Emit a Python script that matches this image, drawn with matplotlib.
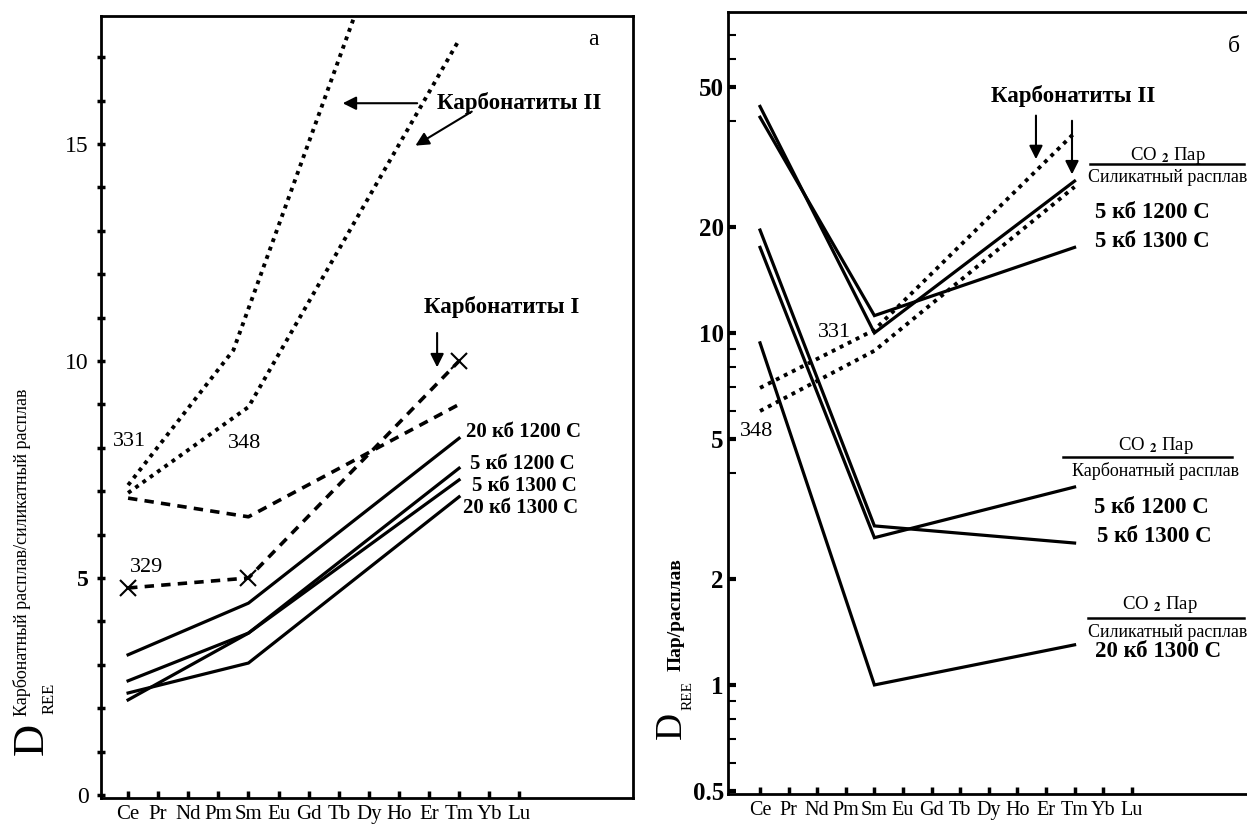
import matplotlib
matplotlib.use('Agg')
import matplotlib.pyplot as plt
from matplotlib.ticker import FixedLocator, NullFormatter

plt.rcParams['font.family'] = ['Liberation Serif', 'DejaVu Serif']
plt.rcParams['mathtext.fontset'] = 'stix'

# REE order on both x axes
ree = ['Ce', 'Pr', 'Nd', 'Pm', 'Sm', 'Eu', 'Gd', 'Tb', 'Dy', 'Ho', 'Er', 'Tm', 'Yb', 'Lu']
pts_x = [0, 4, 11]          # Ce, Sm, Tm

# --- panel a: carbonate melt / silicate melt (linear) ---
a_20kb_1200 = [3.23, 4.42, 8.22]
a_5kb_1200 = [2.63, 3.73, 7.53]
a_5kb_1300 = [2.19, 3.73, 7.26]
a_20kb_1300 = [2.35, 3.04, 6.87]
a_carb1_329 = [4.77, 5.0, 10.0]
a_carb1_b = [6.84, 6.41, 9.0]
a_carb2_331_x = [0, 3.5, 7.5]
a_carb2_331 = [7.14, 10.25, 17.9]
a_carb2_348 = [6.96, 8.94, 17.4]

# --- panel b: vapour / melt (log) ---
b_sil_5kb_1200 = [44.0, 10.0, 27.0]
b_sil_5kb_1300 = [41.0, 11.2, 17.5]
b_carb_5kb_1200 = [17.5, 2.62, 3.65]
b_carb_5kb_1300 = [19.6, 2.83, 2.53]
b_sil_20kb_1300 = [9.37, 1.0, 1.30]
b_carb2_331 = [6.98, 10.2, 37.0]
b_carb2_348 = [6.0, 8.9, 26.0]

W, H = 1247, 833
fig = plt.figure(figsize=(W / 100, H / 100), dpi=100)
axA = fig.add_axes([101 / W, 1 - 798 / H, 532 / W, 782 / H])
axB = fig.add_axes([728 / W, 1 - 794 / H, 519 / W, 782 / H])

solid = dict(color='black', lw=2.3, solid_joinstyle='miter')
dotted = dict(color='black', lw=2.8, linestyle=(0, (1, 1.3)))
dashed = dict(color='black', lw=2.6, linestyle=(0, (2.6, 2.0)))
bold_lbl = dict(fontsize=16.5, fontweight='bold')

# ---------------- panel a ----------------
ax = axA
for s in [a_20kb_1200, a_5kb_1200, a_5kb_1300, a_20kb_1300]:
    ax.plot(pts_x, s, **solid)
ax.plot(pts_x, a_carb1_329, marker='x', ms=11, mew=1.5, **dashed)
ax.plot(pts_x, a_carb1_b, **dashed)
ax.plot(a_carb2_331_x, a_carb2_331, **dotted)
ax.plot(pts_x, a_carb2_348, **dotted)

ax.set_xlim(-0.9, 16.78)
ax.set_ylim(-0.07, 17.95)
ax.set_xticks(range(len(ree)))
ax.set_xticklabels(ree, fontsize=15)
ax.set_yticks([0, 5, 10, 15])
ax.set_yticklabels(['0', '5', '10', '15'], fontsize=17)
for t in ax.get_yticklabels():
    if t.get_text() == '5':
        t.set_fontweight('bold')
ax.set_yticks(range(0, 18), minor=True)
ax.tick_params(axis='y', which='both', direction='inout', length=6, width=2.5, pad=6)
ax.tick_params(axis='x', direction='in', length=5, width=2.5, pad=5)
for sp in ax.spines.values():
    sp.set_linewidth(2)

ax.text(15.45, 17.4, 'а', fontsize=17, ha='center', va='center')
ax.text(-0.5, 8.15, '331', fontsize=16, va='center')
ax.text(3.32, 8.09, '348', fontsize=16, va='center')
ax.text(0.07, 5.23, '329', fontsize=16, va='center')
ax.text(10.27, 15.94, 'Карбонатиты II', ha='left', va='center', **bold_lbl)
ax.text(12.43, 11.24, 'Карбонатиты I', ha='center', va='center', **bold_lbl)
arr = dict(arrowstyle='-|>', color='black', lw=1.5, mutation_scale=20)
ax.annotate('', xy=(7.04, 15.94), xytext=(9.7, 15.94), arrowprops=arr)
ax.annotate('', xy=(9.47, 14.93), xytext=(11.5, 15.78), arrowprops=arr)
ax.annotate('', xy=(10.27, 9.79), xytext=(10.27, 10.71), arrowprops=arr)
for x, y, s in [(11.23, 8.36, '20 кб 1200 С'), (11.36, 7.62, '5 кб 1200 С'),
                (11.43, 7.12, '5 кб 1300 С'), (11.13, 6.61, '20 кб 1300 С')]:
    ax.text(x, y, s, ha='left', va='center', fontsize=15, fontweight='bold')

# y label of panel a
fig.text(32 / W, 1 - 739 / H, 'D', fontsize=32, rotation=90, ha='center', va='center')
fig.text(50 / W, 1 - 698 / H, 'REE', fontsize=12, rotation=90, ha='center', va='center')
fig.text(22 / W, 1 - 716 / H, 'Карбонатный расплав/силикатный расплав', fontsize=13,
         rotation=90, ha='center', va='bottom')

# ---------------- panel b ----------------
ax = axB
for s in [b_sil_5kb_1200, b_sil_5kb_1300, b_carb_5kb_1200, b_carb_5kb_1300, b_sil_20kb_1300]:
    ax.plot(pts_x, s, **solid)
ax.plot(pts_x, b_carb2_331, **dotted)
ax.plot(pts_x, b_carb2_348, **dotted)

ax.set_yscale('log')
ax.set_xlim(-1.12, 17.03)
ax.set_ylim(0.49, 81.6)
ax.set_xticks(range(len(ree)))
ax.set_xticklabels(ree, fontsize=14.5)
ax.set_yticks([0.5, 1, 2, 5, 10, 20, 50])
ax.set_yticklabels(['0.5', '1', '2', '5', '10', '20', '50'], fontsize=18, fontweight='bold')
ax.yaxis.set_minor_locator(FixedLocator([0.6, 0.7, 0.8, 0.9, 4, 6, 7, 8, 9, 40, 60, 70]))
ax.yaxis.set_minor_formatter(NullFormatter())
ax.tick_params(axis='y', which='major', direction='in', length=6, width=3, pad=3)
ax.tick_params(axis='y', which='minor', direction='in', length=6, width=1.5)
ax.tick_params(axis='x', direction='in', length=5, width=2.5, pad=5)
ax.spines['right'].set_visible(False)
for sp in ax.spines.values():
    sp.set_linewidth(2)

ax.text(0.975, 0.956, 'б', transform=ax.transAxes, fontsize=17, ha='center', va='center')
ax.text(2.03, 10.0, '331', fontsize=16, va='center')
ax.text(-0.7, 5.24, '348', fontsize=16, va='center')
ax.text(10.94, 47.1, 'Карбонатиты II', ha='center', va='center', **bold_lbl)
ax.annotate('', xy=(9.65, 30.6), xytext=(9.65, 42.2), arrowprops=arr)
ax.annotate('', xy=(10.91, 27.7), xytext=(10.91, 40.8), arrowprops=arr)

co2 = r'CO $_{\mathbf{2}}$ Пар'
blocks = [
    # (top text x, y, bar x0, x1, y, bottom text x, y, bottom text)
    (0.848, 0.817, 0.697, 0.994, 0.806, 0.848, 0.789, 'Силикатный расплав'),
    (0.825, 0.446, 0.645, 0.971, 0.431, 0.823, 0.413, 'Карбонатный расплав'),
    (0.832, 0.242, 0.694, 0.994, 0.225, 0.848, 0.207, 'Силикатный расплав'),
]
for tx, ty, bx0, bx1, by, lx, ly, low in blocks:
    ax.text(tx, ty, co2, transform=ax.transAxes, fontsize=13.5, ha='center', va='center')
    ax.plot([bx0, bx1], [by, by], transform=ax.transAxes, color='black', lw=1.8,
            clip_on=False)
    ax.text(lx, ly, low, transform=ax.transAxes, fontsize=13, ha='center', va='center')

for x, y, s in [(0.707, 0.743, '5 кб 1200 С'), (0.707, 0.706, '5 кб 1300 С'),
                (0.705, 0.367, '5 кб 1200 С'), (0.711, 0.329, '5 кб 1300 С'),
                (0.707, 0.182, '20 кб 1300 С')]:
    ax.text(x, y, s, transform=ax.transAxes, ha='left', va='center', **bold_lbl)

# y label of panel b
fig.text(672 / W, 1 - 725 / H, 'D', fontsize=27, rotation=90, ha='center', va='center')
fig.text(688 / W, 1 - 695 / H, 'REE', fontsize=11, rotation=90, ha='center', va='center')
fig.text(676 / W, 1 - 671 / H, 'Пар/расплав', fontsize=14, fontweight='bold',
         rotation=90, ha='center', va='bottom')

fig.savefig('out.png', dpi=100)
